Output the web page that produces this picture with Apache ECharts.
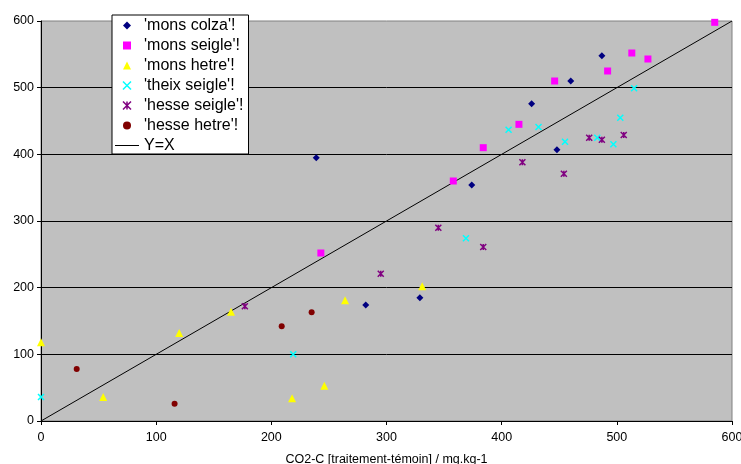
<!DOCTYPE html>
<html><head><meta charset="utf-8">
<script src="https://cdn.jsdelivr.net/npm/echarts@6/dist/echarts.min.js"></script>
<style>html,body{margin:0;padding:0;background:#fff}#c{width:741px;height:464px}</style>
</head><body><div id="c"></div>
<script>
const monsColza = [[239,395],[282,174],[329,185],[487,548],[460,510],[426,476],[448,407],[374,354]];
const monsSeigle = [[585,598],[513,552],[527,543],[492,525],[446,510],[415,445],[384,410],[358,360],[243,252]];
const monsHetre = [[0,118],[54,36],[120,132],[165,164],[264,181],[331,202],[246,53],[218,34]];
const theixSeigle = [[0,36],[219,100],[369,274],[515,499],[503,455],[406,437],[432,441],[455,419],[483,425],[497,415]];
const hesseSeigle = [[177,172],[295,221],[345,290],[384,261],[418,388],[454,371],[476,425],[487,422],[506,429]];
const hesseHetre = [[31,78],[116,26],[209,142],[235,163]];
const yEqualsX = [[0,0],[600,600]];
const axisTicks = [0,100,200,300,400,500,600];

const font = 'Liberation Sans, Arial, sans-serif';
const P = {
  diamond:'path://M5,0L10,5L5,10L0,5Z',
  square:'path://M0,0L10,0L10,10L0,10Z',
  triangle:'path://M5,0L10,10L0,10Z',
  cross:'path://M0,0L10,10M10,0L0,10',
  star:'path://M0,0L10,10M10,0L0,10M5,0L5,10',
  circle:'path://M0,5A5,5 0 1,0 10,5A5,5 0 1,0 0,5Z',
  line:'path://M0,0L24,0L24,1L0,1Z'
};
const chart = echarts.init(document.getElementById('c'));
function sc(name, data, symbol, size, color, stroke) {
  const s = {name, type:'scatter', data, symbol, symbolSize:size, itemStyle:{color, opacity:1}};
  if (stroke) s.itemStyle = {color, opacity:1, borderColor:color, borderWidth:1.5};
  return s;
}
chart.setOption({
  animation:false,
  textStyle:{fontFamily:font},
  grid:{left:41, right:9, top:21, bottom:43, outerBoundsMode:'none', containLabel:false, show:true, backgroundColor:'#c0c0c0', borderColor:'#808080', borderWidth:1},
  legend:{
    orient:'vertical', left:112, top:15,
    backgroundColor:'#fff', borderColor:'#000', borderWidth:1,
    padding:[2,5,0,3], itemWidth:24, itemHeight:8, itemGap:3, symbolKeepAspect:true,
    textStyle:{fontSize:16, color:'#000', fontFamily:font, lineHeight:17},
    itemStyle:{opacity:1},
    data:[
      {name:"'mons colza'!", icon:P.diamond},
      {name:"'mons seigle'!", icon:P.square},
      {name:"'mons hetre'!", icon:P.triangle},
      {name:"'theix seigle'!", icon:P.cross, itemStyle:{borderColor:'#00ffff', borderWidth:1.5}},
      {name:"'hesse seigle'!", icon:P.star, itemStyle:{borderColor:'#800080', borderWidth:1.5}},
      {name:"'hesse hetre'!", icon:P.circle},
      {name:"Y=X", icon:P.line}
    ]
  },
  xAxis:{type:'value', min:axisTicks[0], max:axisTicks[axisTicks.length-1], interval:100,
    name:'CO2-C [traitement-témoin] / mg.kg-1', nameLocation:'middle', nameGap:32,
    nameTextStyle:{fontSize:12.5, color:'#000', fontFamily:font},
    axisLine:{lineStyle:{color:'#000'}}, axisTick:{show:true, length:4, lineStyle:{color:'#000'}},
    axisLabel:{fontSize:12.5, color:'#000', margin:10, fontFamily:font}, splitLine:{show:false}},
  yAxis:{type:'value', min:axisTicks[0], max:axisTicks[axisTicks.length-1], interval:100,
    axisLine:{show:true, lineStyle:{color:'#000'}}, axisTick:{show:true, length:4, lineStyle:{color:'#000'}},
    axisLabel:{fontSize:12.5, color:'#000', margin:7, fontFamily:font},
    splitLine:{show:true, showMaxLine:false, lineStyle:{color:'#000', width:1}}},
  series:[
    sc("'mons colza'!", monsColza, P.diamond, 7, '#000080'),
    sc("'mons seigle'!", monsSeigle, P.square, 7, '#ff00ff'),
    sc("'mons hetre'!", monsHetre, P.triangle, 8, '#ffff00'),
    sc("'theix seigle'!", theixSeigle, P.cross, 6, '#00ffff', true),
    sc("'hesse seigle'!", hesseSeigle, P.star, 6, '#800080', true),
    sc("'hesse hetre'!", hesseHetre, P.circle, 6, '#800000'),
    {name:'Y=X', type:'line', data:yEqualsX, symbol:'none', lineStyle:{color:'#000', width:1}, itemStyle:{color:'#000'}, z:1}
  ]
});
</script></body></html>
